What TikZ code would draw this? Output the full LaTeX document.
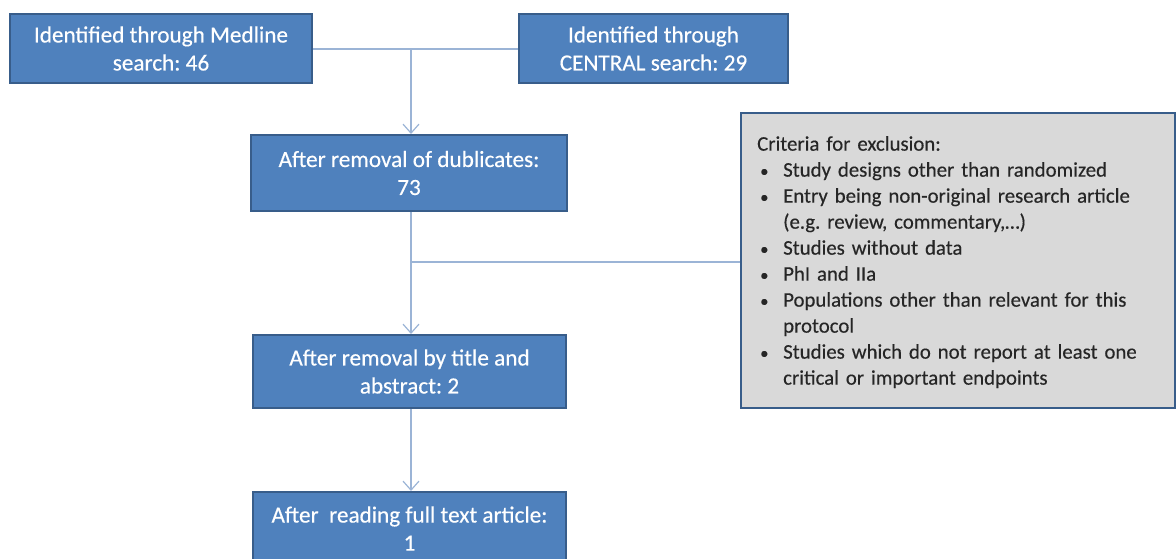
\documentclass[tikz,border=0pt]{standalone}
\usepackage{fontspec}
\setmainfont[FakeBold=0.35]{Carlito}
\usetikzlibrary{arrows.meta}
\definecolor{boxblue}{HTML}{4F81BD}
\definecolor{boxedge}{HTML}{385D8A}
\definecolor{linkblue}{HTML}{9BB4D6}
\definecolor{greyfill}{HTML}{D9D9D9}
\frenchspacing
\newcommand{\critbullet}{\hangindent=26pt\hangafter=1\makebox[26pt][l]{\hspace{3pt}\scalebox{0.8}{•}}}
\tikzset{
  bluebox/.style={draw=boxedge, line width=2pt, fill=boxblue, text=white, align=center,
    font=\fontsize{23.2}{28}\selectfont, inner sep=0pt},
  link/.style={draw=linkblue, line width=1.4pt},
  linkarrow/.style={link, -{Straight Barb[length=9pt,width=16pt,line width=1.2pt]}},
}
\begin{document}
\begin{tikzpicture}[x=1pt,y=-1pt]
\useasboundingbox (0,0) rectangle (1176,558);
\node[bluebox, minimum width=302pt, minimum height=69pt] (medline) at (161,48.5) {Identified through Medline\\search: 46};
\node[bluebox, minimum width=269pt, minimum height=69pt] (central) at (653.5,48.5) {Identified through\\CENTRAL search: 29};
\node[bluebox, minimum width=316pt, minimum height=76pt] (dubl) at (409,173) {After removal of dublicates:\\73};
\node[bluebox, minimum width=313pt, minimum height=73pt] (title) at (409.5,371.5) {After removal by title and\\abstract: 2};
\node[bluebox, minimum width=313pt, minimum height=73pt] (full) at (409.5,528.5) {After\ \ reading full text article:\\1};
\node[draw=boxedge, line width=2pt, fill=greyfill, minimum width=434pt, minimum height=295pt, inner sep=0pt] (excl) at (957.5,260.5) {};
\node[anchor=north west, inner sep=0pt, text width=420pt, align=left, font=\fontsize{20.8}{26}\selectfont, text=black!85] (crit) at (757,136) {%
Criteria for exclusion:\par
\critbullet Study designs other than randomized\par
\critbullet Entry being non-original research article\newline (e.g. review, commentary,…)\par
\critbullet Studies without data\par
\critbullet PhI and IIa\par
\critbullet Populations other than relevant for this\newline protocol\par
\critbullet Studies which do not report at least one\newline critical or important endpoints\par};
\coordinate (j1) at (411,49);
\coordinate (j2) at (411,262);
\draw[link] (medline.east |- j1) -- (central.west |- j1);
\draw[linkarrow] (j1) -- (j1 |- dubl.north);
\draw[linkarrow] (j1 |- dubl.south) -- (j1 |- title.north);
\draw[link] (j2) -- (excl.west |- j2);
\draw[linkarrow] (j1 |- title.south) -- (j1 |- full.north);
\end{tikzpicture}
\end{document}
